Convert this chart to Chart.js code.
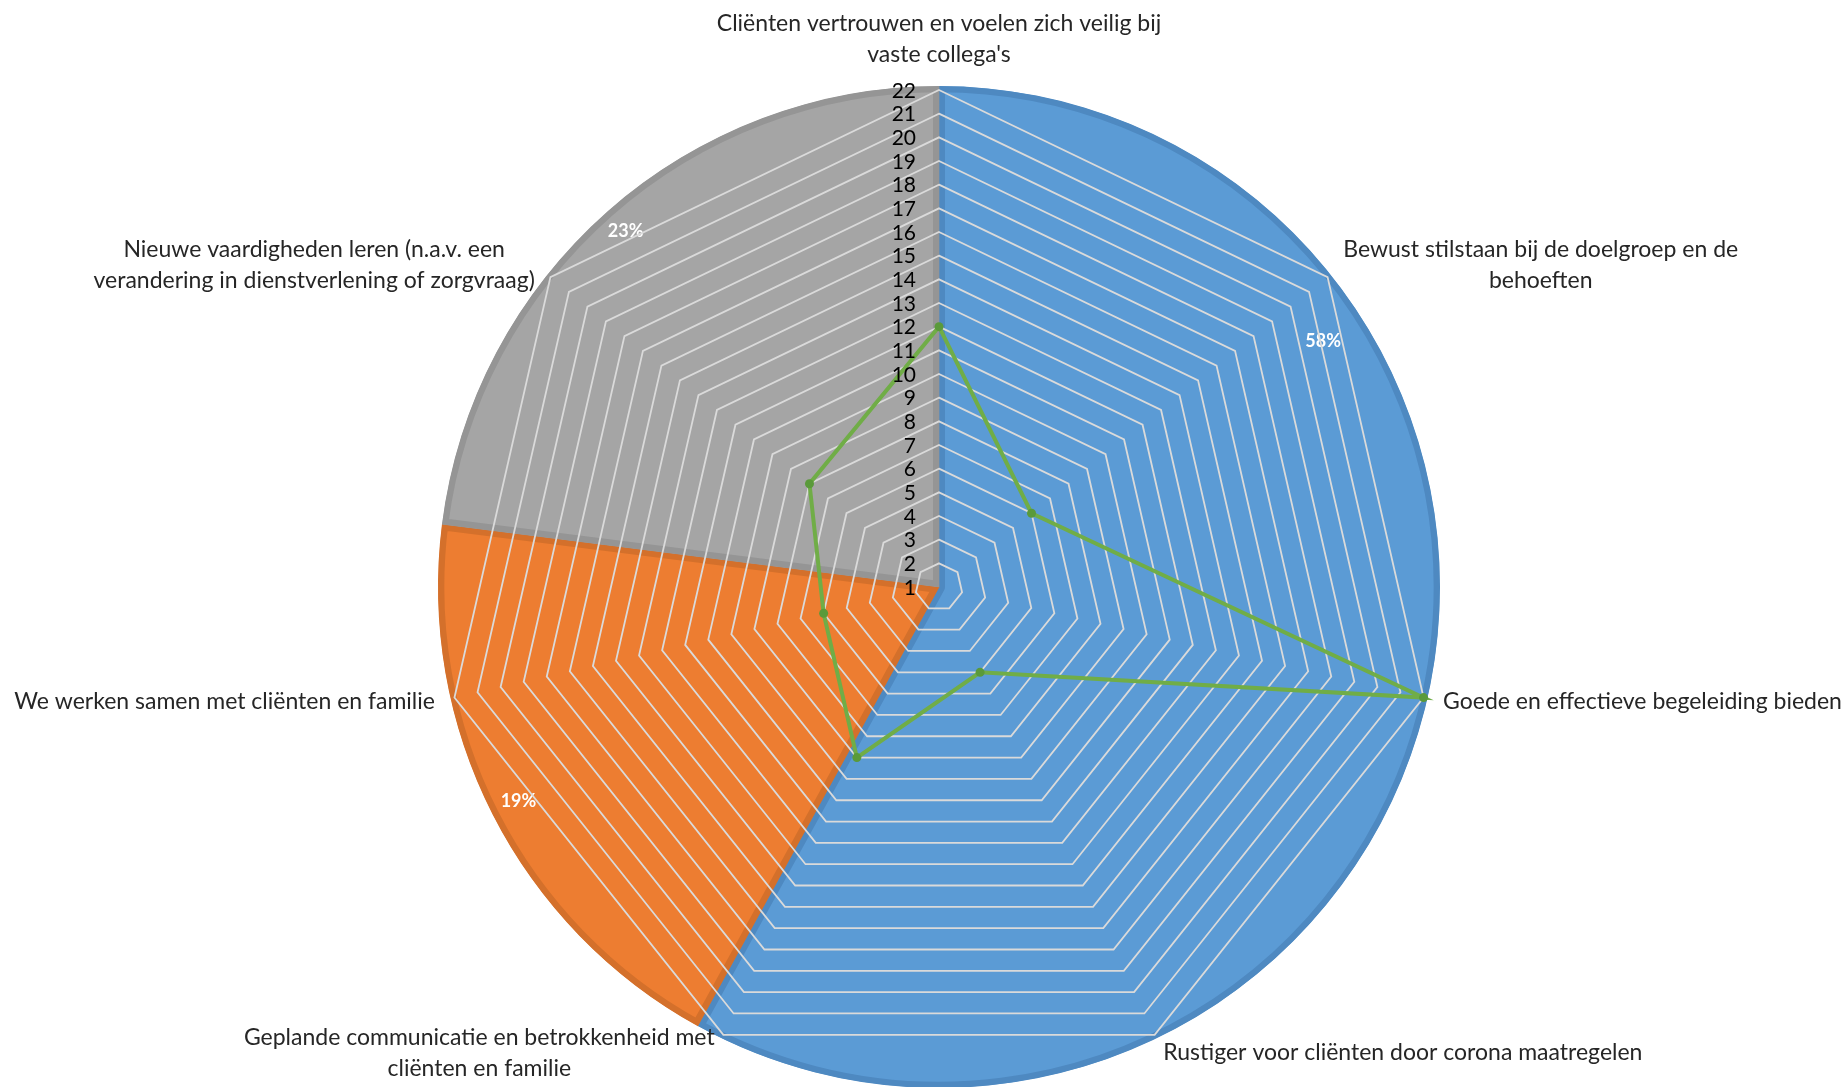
<!DOCTYPE html>
<html>
<head>
<meta charset="utf-8">
<script src="https://cdn.jsdelivr.net/npm/chart.js@4.4.1/dist/chart.umd.min.js"></script>
<style>
  html, body { margin: 0; padding: 0; background: #fff; }
  #wrap { position: relative; width: 1847px; height: 1087px; }
  #wrap canvas { position: absolute; left: 0; top: 0; }
</style>
</head>
<body>
<div id="wrap">
  <canvas id="pieChart" width="1847" height="1087"></canvas>
  <canvas id="radarChart" width="1847" height="1087"></canvas>
</div>
<script>
// radar categories (each one split in the lines shown in the picture)
var categories = [
  ["Cliënten vertrouwen en voelen zich veilig bij", "vaste collega's"],
  ["Bewust stilstaan bij de doelgroep en de", "behoeften"],
  ["Goede en effectieve begeleiding bieden"],
  ["Rustiger voor cliënten door corona maatregelen"],
  ["Geplande communicatie en betrokkenheid met", "cliënten en familie"],
  ["We werken samen met cliënten en familie"],
  ["Nieuwe vaardigheden leren (n.a.v. een", "verandering in dienstverlening of zorgvraag)"]
];
var scores = [12, 6, 22, 5, 9, 6, 8];
var scaleMin = 1;
var scaleMax = 22;

// pie behind the radar
var pieShares = [58, 19, 23];
var pieColors = ['#5B9BD5', '#ED7D31', '#A5A5A5'];
var pieEdges = ['#4E89C1', '#D4702B', '#959595'];

// layout
var center = { x: 939, y: 587 };
var pieRadius = 501;
var radarRadius = 497;
var pctRadius = [0.91, 0.942, 0.946];
var pctShift = [-47, 0, 0]; // degrees
var labelFont = '23px Lato';
var lineH = 31;

var pctLabels = {
  id: 'pctLabels',
  afterDatasetsDraw: function (chart) {
    var ctx = chart.ctx;
    var meta = chart.getDatasetMeta(0);
    var total = pieShares.reduce(function (a, b) { return a + b; }, 0);
    ctx.save();
    ctx.fillStyle = '#ffffff';
    ctx.font = 'bold 18px Lato';
    ctx.textAlign = 'center';
    ctx.textBaseline = 'middle';
    meta.data.forEach(function (arc, i) {
      var p = arc.getProps(['x', 'y', 'startAngle', 'endAngle', 'outerRadius']);
      var a = (p.startAngle + p.endAngle) / 2 + pctShift[i] * Math.PI / 180;
      var r = p.outerRadius * pctRadius[i];
      ctx.fillText(Math.round(pieShares[i] / total * 100) + '%', p.x + Math.cos(a) * r, p.y + Math.sin(a) * r);
    });
    ctx.restore();
  }
};

new Chart(document.getElementById('pieChart'), {
  type: 'pie',
  data: {
    labels: ['', '', ''],
    datasets: [{
      data: pieShares,
      backgroundColor: pieColors,
      borderColor: pieEdges,
      borderWidth: 6,
      borderAlign: 'inner'
    }]
  },
  options: {
    responsive: false,
    animation: false,
    radius: pieRadius,
    layout: { padding: { left: 2 * center.x - 1847, top: 2 * center.y - 1087, right: 0, bottom: 0 } },
    plugins: { legend: { display: false }, tooltip: { enabled: false } }
  },
  plugins: [pctLabels]
});

// tick numbers on the left of the vertical axis and the wrapped category labels
var radarText = {
  id: 'radarText',
  afterDraw: function (chart) {
    var scale = chart.scales.r;
    var ctx = chart.ctx;
    ctx.save();
    ctx.fillStyle = '#000000';
    ctx.font = '21px Lato';
    ctx.textAlign = 'right';
    ctx.textBaseline = 'middle';
    scale.ticks.forEach(function (t) {
      var y = scale.yCenter - scale.getDistanceFromCenterForValue(t.value);
      ctx.fillText(t.label, scale.xCenter - 23, y + 1);
    });

    ctx.fillStyle = '#262626';
    ctx.font = labelFont;
    ctx.textAlign = 'center';
    chart.data.labels.forEach(function (lines, i) {
      var pos = scale.getPointPosition(i, scale.drawingArea + 20);
      var w = Math.max.apply(null, lines.map(function (l) { return ctx.measureText(l).width; }));
      var dx = pos.x - scale.xCenter;
      var h = lines.length * lineH;
      var cx, top;
      if (Math.abs(dx) < 5) {
        cx = pos.x;
        top = pos.y < scale.yCenter ? pos.y - h : pos.y;
      } else {
        cx = dx > 0 ? pos.x + w / 2 : pos.x - w / 2;
        top = pos.y - h / 2;
      }
      lines.forEach(function (l, j) {
        ctx.fillText(l, cx, top + lineH * (j + 0.5));
      });
    });
    ctx.restore();
  }
};

new Chart(document.getElementById('radarChart'), {
  type: 'radar',
  data: {
    labels: categories,
    datasets: [{
      data: scores,
      borderColor: '#70AD47',
      borderWidth: 4,
      pointRadius: 4.5,
      pointBackgroundColor: '#5A9A3A',
      pointBorderWidth: 0,
      fill: false
    }]
  },
  options: {
    responsive: false,
    animation: false,
    plugins: { legend: { display: false }, tooltip: { enabled: false } },
    scales: {
      r: {
        min: scaleMin,
        max: scaleMax,
        ticks: { display: false, stepSize: 1 },
        grid: { color: '#DADADA', lineWidth: 1.8 },
        angleLines: { display: false },
        pointLabels: { display: false },
        afterFit: function (scale) {
          scale.xCenter = center.x;
          scale.yCenter = center.y;
          scale.drawingArea = radarRadius;
        }
      }
    }
  },
  plugins: [radarText]
});
</script>
</body>
</html>
